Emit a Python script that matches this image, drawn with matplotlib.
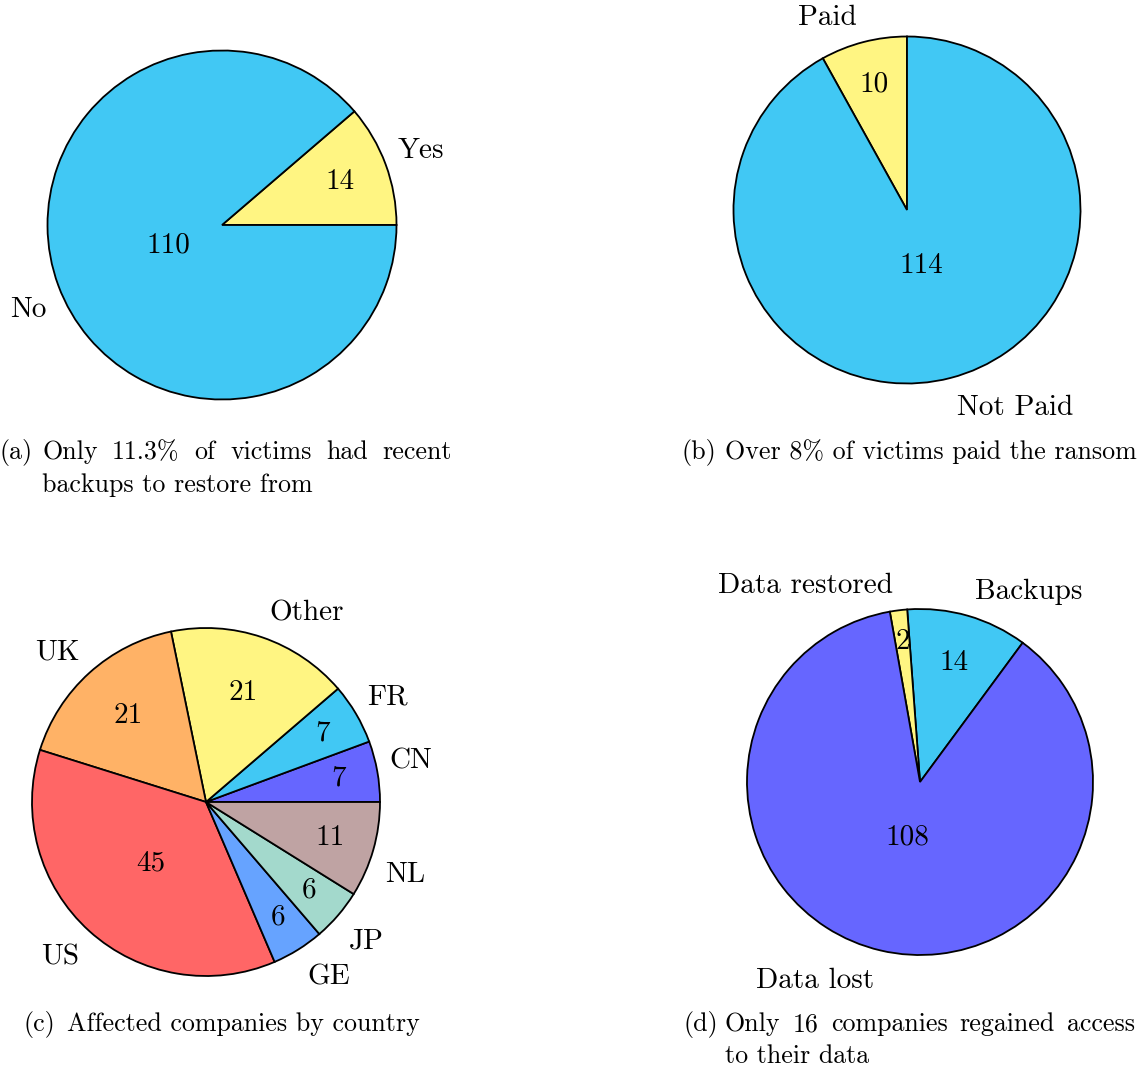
import numpy as np
import matplotlib.pyplot as plt

# data
backup_labels = ['Yes', 'No']
backup_values = [14, 110]

ransom_labels = ['Paid', 'Not Paid']
ransom_values = [10, 114]

country_labels = ['CN', 'FR', 'Other', 'UK', 'US', 'GE', 'JP', 'NL']
country_values = [7, 7, 21, 21, 45, 6, 6, 11]

access_labels = ['Backups', 'Data restored', 'Data lost']
access_values = [14, 2, 108]

captions = {
    'a': ['Only 11.3% of victims had recent', 'backups to restore from'],
    'b': ['Over 8% of victims paid the ransom'],
    'c': ['Affected companies by country'],
    'd': ['Only 16 companies regained access', 'to their data'],
}

# colours (pgf-pie like)
cyan = '#41C8F4'
yellow = '#FFF582'
blue = '#6666FF'
orange = '#FFB266'
red = '#FF6666'
lblue = '#66A3FF'
teal = '#A3D9CC'
rosy = '#BFA3A3'

plt.rcParams['font.family'] = ['cmr10', 'DejaVu Serif']
plt.rcParams['axes.formatter.use_mathtext'] = True
FS_PIE = 21
FS_CAP = 18.7

W, H = 1142, 1067
fig = plt.figure(figsize=(W / 100, H / 100), dpi=100)
ax = fig.add_axes([0, 0, 1, 1])


def draw_pie(values, labels, colors, cx, cy, r, start):
    wedges, _ = ax.pie(values, colors=colors, startangle=start, counterclock=True,
                       center=(cx, H - cy), radius=r,
                       wedgeprops=dict(edgecolor='black', linewidth=1.3))
    for w, v, lab in zip(wedges, values, labels):
        span = w.theta2 - w.theta1
        mid = np.deg2rad((w.theta1 + w.theta2) / 2)
        c, s = np.cos(mid), np.sin(mid)
        # number inside the slice, closer to the centre for big slices
        f = max(min(-span * 0.3 / 110, 0), -0.5) + 0.83
        ax.text(cx + f * r * c, H - cy + f * r * s, str(v), fontsize=FS_PIE,
                ha='center', va='center')
        # label outside
        pad = 5 - 10 * abs(c)
        lx = cx + 1.1 * r * c + (pad if c > 0 else -pad)
        ly = H - cy + 1.1 * r * s
        if s > 0:
            ax.text(lx, ly, lab, fontsize=FS_PIE, ha='left' if c > 0 else 'right',
                    va='baseline')
        else:
            ax.text(lx, ly - 9 * abs(c) ** 8, lab, fontsize=FS_PIE,
                    ha='left' if c > 0 else 'right', va='top')


draw_pie(backup_values, backup_labels, [yellow, cyan], 222, 225, 174.5, 0)
draw_pie(ransom_values, ransom_labels, [yellow, cyan], 907, 210, 173.5, 90)
draw_pie(country_values, country_labels,
         [blue, cyan, yellow, orange, red, lblue, teal, rosy], 206, 802, 174, 0)
draw_pie(access_values, access_labels, [cyan, yellow, blue], 920, 782, 173, 53.6)

ax.set_xlim(0, W)
ax.set_ylim(0, H)
ax.axis('off')

renderer = fig.canvas.get_renderer()


def put_line(text, x0, y, x1=None):
    # place a caption line, spread out to x1 when given
    if x1 is None:
        ax.text(x0, H - y, text, fontsize=FS_CAP, ha='left', va='baseline')
        return
    words = text.split()
    objs = [ax.text(0, H - y, wd, fontsize=FS_CAP, ha='left', va='baseline') for wd in words]
    widths = [o.get_window_extent(renderer).width for o in objs]
    gap = (x1 - x0 - sum(widths)) / (len(words) - 1)
    x = x0
    for o, wd in zip(objs, widths):
        o.set_x(x)
        x += wd + gap


# captions
put_line('(a)', 0, 459)
put_line(captions['a'][0], 42, 459, 452)
put_line(captions['a'][1], 42, 492)

put_line('(b)', 682, 459)
put_line(captions['b'][0], 725, 459)

put_line('(c)', 23, 1031)
put_line(captions['c'][0], 67, 1031)

put_line('(d)', 683, 1031)
put_line(captions['d'][0], 725, 1031, 1135)
put_line(captions['d'][1], 725, 1063)

plt.savefig('out.png')
